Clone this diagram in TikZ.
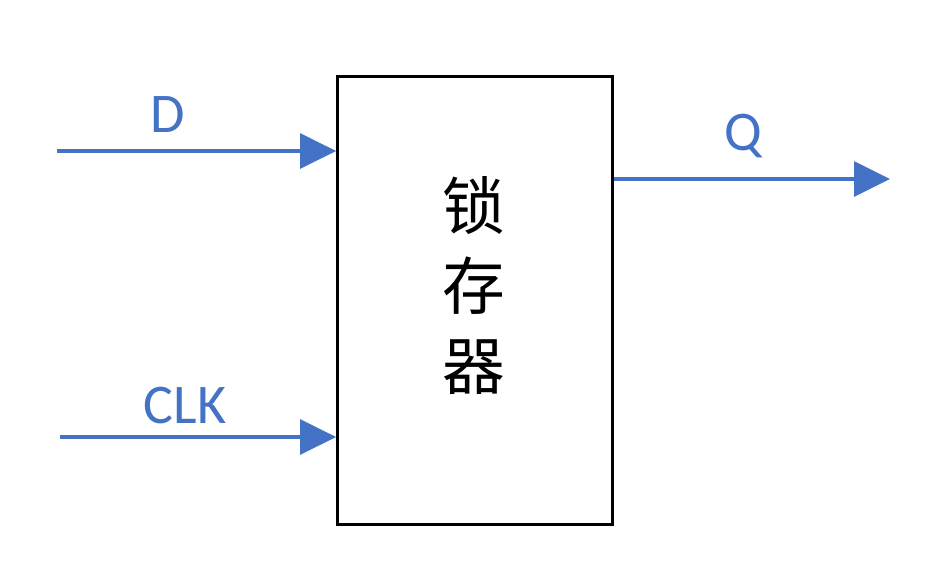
\documentclass[tikz,border=0pt]{standalone}
\usepackage{fontspec}
\setmainfont{Carlito}
\newfontfamily\cjk{Noto Sans CJK SC}
\usetikzlibrary{arrows.meta, positioning}
\definecolor{sigblue}{HTML}{4472C4}

\begin{document}
\begin{tikzpicture}[
		x=0.75pt, y=-0.75pt,
		% Style for the latch block
		latch/.style={draw=black, line width=2.25pt, minimum width=206pt, minimum height=336pt, inner sep=0pt},
		% Connector styles
		signal/.style={draw=sigblue, line width=3pt, -{Triangle[length=27pt, width=26pt]}},
		sig label/.style={text=sigblue, font=\fontsize{42}{44}\selectfont, anchor=base}
		]
		
		% --- 1. Bounding box ---
		\useasboundingbox (0,0) rectangle (945,579);
		
		% --- 2. The latch ---
		\node[latch] (box) at (475,300) {};
		\node[font=\cjk\fontsize{47}{60}\selectfont, align=center] (name) at (474,285) {锁\\存\\器};
		
		% --- 3. Signal ends ---
		\coordinate (d-in) at (57,151);
		\coordinate (clk-in) at (60,437);
		\coordinate (q-out) at (890,179);
		
		% --- 4. Signals ---
		\draw[signal] (d-in) -- (d-in -| box.west);
		\draw[signal] (clk-in) -- (clk-in -| box.west);
		\draw[signal] (q-out -| box.east) -- (q-out);
		
		% --- 5. Labels ---
		\node[sig label] (d-lab) at (168,132) {D};
		\node[sig label] (clk-lab) at (185,423) {CLK};
		\node[sig label] (q-lab) at (743,150) {Q};
		
	\end{tikzpicture}
\end{document}
